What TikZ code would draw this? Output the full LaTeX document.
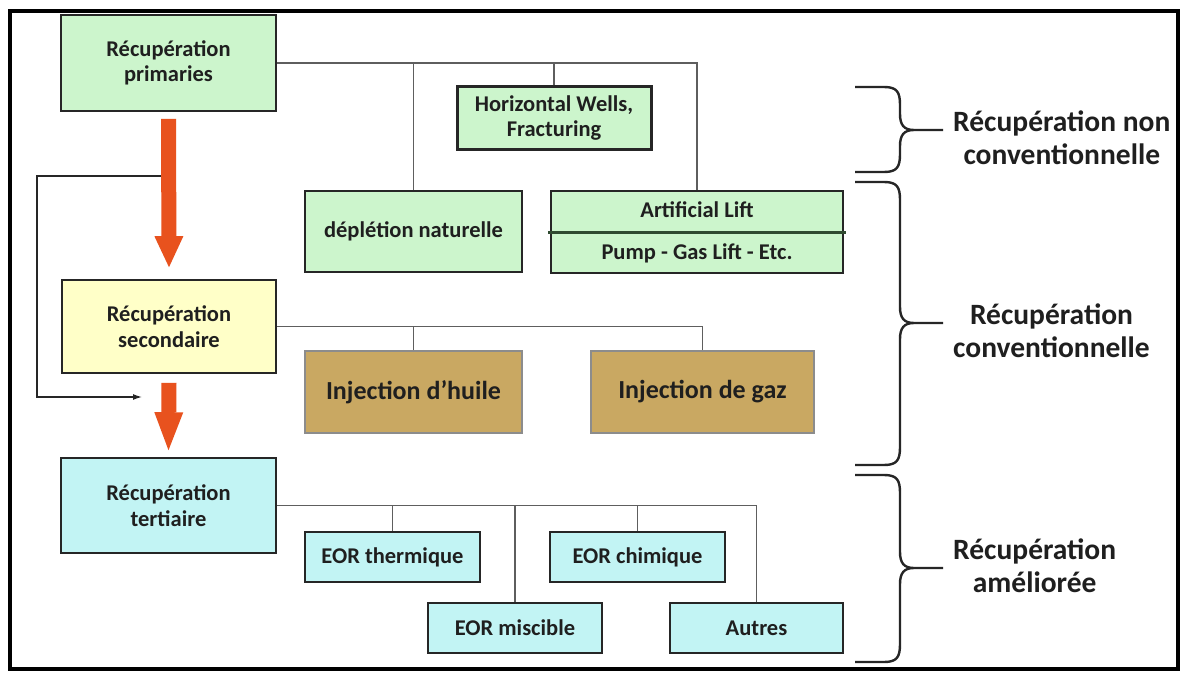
\documentclass[tikz,border=0pt]{standalone}
\usepackage{fontspec}
\setmainfont{Carlito}
\usepackage{tikz}
\usetikzlibrary{arrows.meta, positioning}

\definecolor{boxgreen}{HTML}{CCF5CC}
\definecolor{boxyellow}{HTML}{FFFFC8}
\definecolor{boxcyan}{HTML}{C2F4F4}
\definecolor{boxtan}{HTML}{C9A862}
\definecolor{arrowred}{HTML}{E8521E}
\definecolor{linegray}{HTML}{5E5E5E}
\definecolor{divgreen}{HTML}{2F4A30}

% right-hand curly brace: top, tip, bottom (y in px)
\newcommand{\curlybrace}[3]{%
  \draw[bracepen] (855,#1) -- (884,#1) .. controls (897,#1) and (900,#1+5) .. (900,#1+18)
    -- (900,#2-16) .. controls (900,#2-5) and (904,#2) .. (914,#2) -- (943,#2)
    (914,#2) .. controls (904,#2) and (900,#2+5) .. (900,#2+16)
    -- (900,#3-18) .. controls (900,#3-5) and (897,#3) .. (884,#3) -- (855,#3);}

\begin{document}
\begin{tikzpicture}[x=1pt, y=-1pt,
    stagebox/.style={draw=black!85, line width=1.6pt, inner sep=0pt, align=center,
      text=black!88, font=\fontsize{22.5}{25.5}\selectfont\bfseries},
    greenbox/.style={stagebox, fill=boxgreen},
    yellowbox/.style={stagebox, fill=boxyellow},
    cyanbox/.style={stagebox, fill=boxcyan},
    tanbox/.style={stagebox, fill=boxtan, draw=black!45, font=\fontsize{26}{30}\selectfont\bfseries},
    boxtext/.style={inner sep=0pt, text=black!88, font=\fontsize{22.5}{25.5}\selectfont\bfseries},
    link/.style={draw=linegray, line width=1.1pt},
    bigarrow/.style={draw=arrowred, line width=15pt},
    feedback/.style={draw=black!85, line width=1.3pt, -{Latex[length=9pt, width=6pt]}},
    bracepen/.style={draw=black!85, line width=2.4pt, line join=round},
    sidelabel/.style={anchor=west, align=center, inner sep=0pt, text=black!88,
      font=\fontsize{29.5}{33}\selectfont\bfseries}]

    \useasboundingbox (0,0) rectangle (1185,674);
    \fill[white] (0,0) rectangle (1185,674);

    % Frame
    \draw[line width=3.2pt] (10,11) rectangle (1178,669);

    % Primary recovery
    \node[greenbox, minimum width=215, minimum height=96] (prim) at (168.5,63) {Récupération\\primaries};
    \node[greenbox, line width=3pt, minimum width=194, minimum height=62] (hw) at (554,118) {Horizontal Wells,\\Fracturing};
    \node[greenbox, minimum width=217, minimum height=81] (depl) at (413.5,231.5) {déplétion naturelle};
    \node[greenbox, minimum width=292, minimum height=82] (art) at (697,232) {};
    \node[boxtext] (artup) at (697,210) {Artificial Lift};
    \node[boxtext] (artlow) at (697,253) {Pump - Gas Lift - Etc.};
    \draw[divgreen, line width=3pt] ([xshift=-2pt]art.west) -- ([xshift=2pt]art.east);

    % Secondary recovery
    \node[yellowbox, minimum width=214, minimum height=93] (sec) at (169,326.5) {Récupération\\secondaire};
    \node[tanbox, minimum width=217, minimum height=82] (huile) at (413.5,392) {Injection d’huile};
    \node[tanbox, minimum width=223, minimum height=82] (gaz) at (702.5,392) {Injection de gaz};

    % Tertiary recovery
    \node[cyanbox, minimum width=215, minimum height=95] (tert) at (168.5,505.5) {Récupération\\tertiaire};
    \node[cyanbox, minimum width=175, minimum height=50] (therm) at (392.5,557) {EOR thermique};
    \node[cyanbox, minimum width=175, minimum height=50] (chim) at (637.5,557) {EOR chimique};
    \node[cyanbox, minimum width=174, minimum height=50] (misc) at (515,628) {EOR miscible};
    \node[cyanbox, minimum width=173, minimum height=50] (autres) at (756.5,628) {Autres};

    % Branches
    \draw[link] (prim.east) -| (art.north);
    \draw[link] (depl.north) -- (depl.north |- prim.east);
    \draw[link] (hw.north) -- (hw.north |- prim.east);
    \draw[link] (sec.east) -| (gaz.north);
    \draw[link] (huile.north) -- (huile.north |- sec.east);
    \draw[link] (tert.east) -| (autres.north);
    \draw[link] (therm.north) -- (therm.north |- tert.east);
    \draw[link] (chim.north) -- (chim.north |- tert.east);
    \draw[link] (misc.north) -- (misc.north |- tert.east);

    % Loop back arrow
    \coordinate (loopstart) at (169,176);
    \coordinate (loopend) at (142,397);
    \draw[feedback] (loopstart) -- ++(-132,0) |- (loopend);

    % Stage arrows
    \draw[bigarrow, -{Triangle[width=29pt, length=31pt, line width=0pt]}] ([yshift=-7pt]prim.south) -- ([yshift=12pt]sec.north);
    \draw[bigarrow, -{Triangle[width=29pt, length=38pt, line width=0pt]}] ([yshift=-9pt]sec.south) -- ([yshift=7pt]tert.north);

    % Braces and labels
    \curlybrace{87}{130}{172}
    \curlybrace{182}{323}{465}
    \curlybrace{475}{568}{662}
    \node[sidelabel] (nonconv) at (953,138) {Récupération non\\conventionnelle};
    \node[sidelabel] (conv) at (953,331) {Récupération\\conventionnelle};
    \node[sidelabel] (amel) at (953,566) {Récupération\\améliorée};
\end{tikzpicture}
\end{document}
